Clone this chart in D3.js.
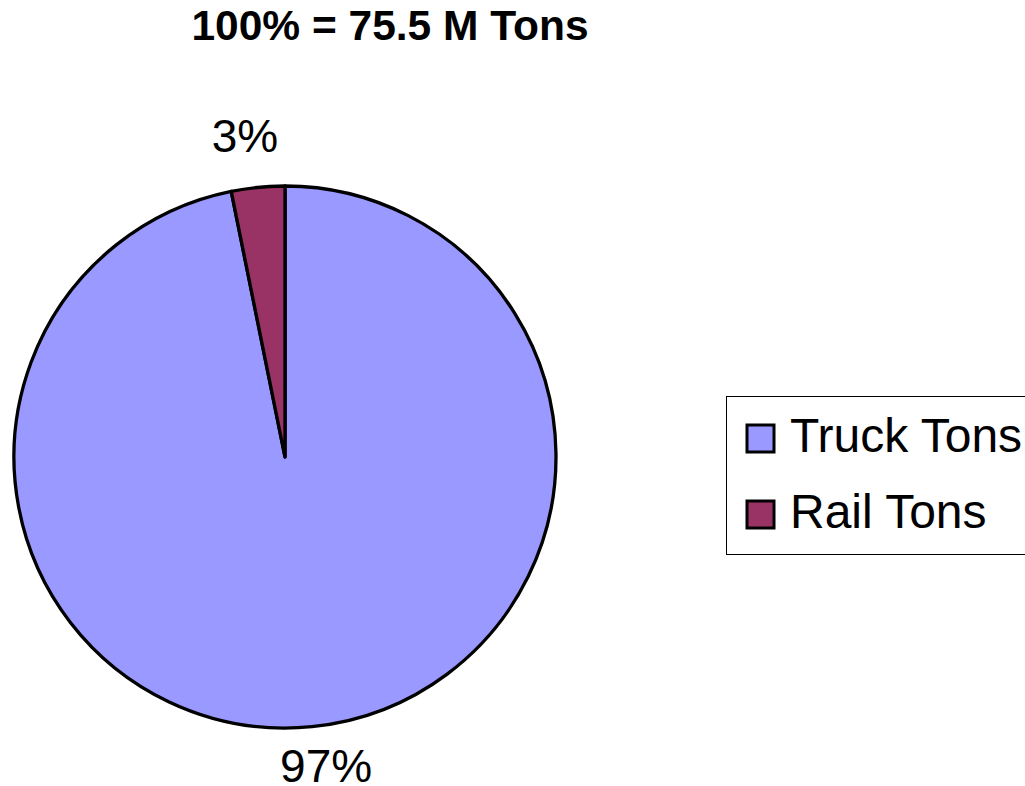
<!DOCTYPE html>
<html>
<head>
<meta charset="utf-8">
<script src="https://cdn.jsdelivr.net/npm/d3@7"></script>
<style>
  body { margin: 0; background: #fff; }
  svg { display: block; font-family: Arial, "Liberation Sans", sans-serif; }
</style>
</head>
<body>
<svg id="chart" width="1025" height="786"></svg>
<script>
// data
var categories = ["Truck Tons", "Rail Tons"];
var tons = [73.1, 2.4];   // million tons, total 75.5
var colors = ["#9999FF", "#993366"];
var title = "100% = 75.5 M Tons";

var svg = d3.select("#chart");
var cx = 285, cy = 457, radius = 271;

// title
svg.append("text")
    .attr("x", 390)
    .attr("y", 40)
    .attr("text-anchor", "middle")
    .attr("font-size", 42.5)
    .attr("font-weight", "bold")
    .text(title);

var total = d3.sum(tons);
var pie = d3.pie().sort(null).value(function(d){ return d; });
var arcs = pie(tons);

var arc = d3.arc().innerRadius(0).outerRadius(radius);
var labelArc = d3.arc().innerRadius(322).outerRadius(322);

var g = svg.append("g").attr("transform", "translate(" + cx + "," + cy + ")");

g.selectAll("path.slice")
    .data(arcs)
    .enter()
    .append("path")
    .attr("class", "slice")
    .attr("d", arc)
    .attr("fill", function(d, i){ return colors[i]; })
    .attr("stroke", "#000")
    .attr("stroke-width", 3.3)
    .attr("stroke-linejoin", "round");

// percent labels
g.selectAll("text.pct")
    .data(arcs)
    .enter()
    .append("text")
    .attr("class", "pct")
    .attr("x", function(d, i){ return labelArc.centroid(d)[0] + (i == 0 ? 9 : -8); })
    .attr("y", function(d, i){ return labelArc.centroid(d)[1] + (i == 0 ? 5 : 15); })
    .attr("text-anchor", "middle")
    .attr("font-size", 46)
    .text(function(d){ return Math.round(d.value / total * 100) + "%"; });

// legend
var legend = svg.append("g").attr("transform", "translate(726,396)");
legend.append("rect")
    .attr("x", 0.5)
    .attr("y", 0.5)
    .attr("width", 320)
    .attr("height", 158)
    .attr("fill", "#fff")
    .attr("stroke", "#000")
    .attr("stroke-width", 1);

var rowY = d3.scalePoint().domain(categories).range([56, 132]);

var rows = legend.selectAll("g.row")
    .data(categories)
    .enter()
    .append("g")
    .attr("class", "row")
    .attr("transform", function(d){ return "translate(0," + rowY(d) + ")"; });

rows.append("rect")
    .attr("x", 21)
    .attr("y", -27)
    .attr("width", 27)
    .attr("height", 27)
    .attr("fill", function(d, i){ return colors[i]; })
    .attr("stroke", "#000")
    .attr("stroke-width", 3);

rows.append("text")
    .attr("x", 64)
    .attr("y", 0)
    .attr("font-size", 48)
    .text(function(d){ return d; });
</script>
</body>
</html>
